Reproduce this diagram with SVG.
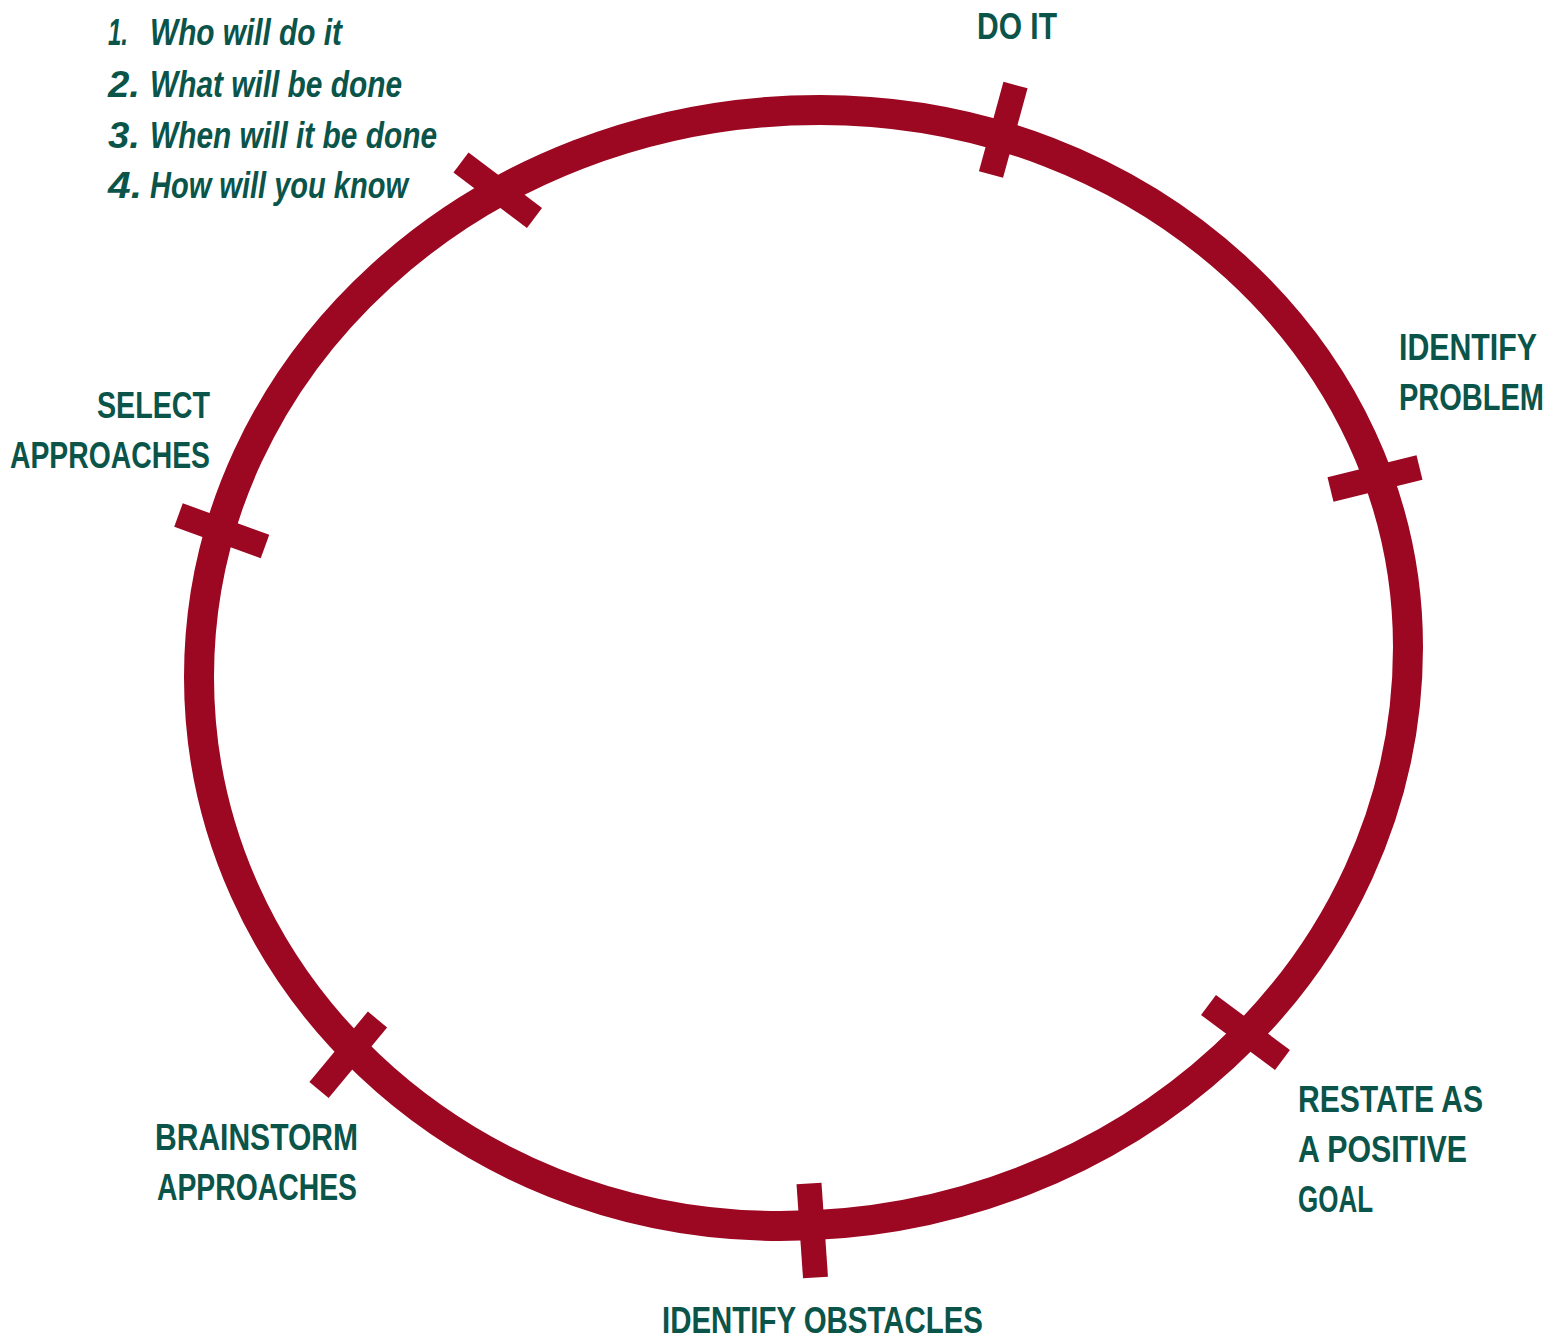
<svg xmlns="http://www.w3.org/2000/svg" width="1563" height="1340" viewBox="0 0 1563 1340">
<style>
.ring{fill:none;stroke:#9C0722;stroke-width:30}
.tick{stroke:#9C0722;stroke-width:25;stroke-linecap:butt}
.lbl{font-family:"Liberation Sans Narrow","Liberation Sans",Arial,sans-serif;font-weight:bold;font-size:37px;fill:#0B5449}
.lst{font-style:italic}
</style>
<rect width="1563" height="1340" fill="#fff"/>
<g id="connectors">
<path class="ring" d="M820,110 C1144.8,110 1408,350.4 1408,647 C1408,966.8 1126.8,1226 780,1226 C459.1,1226 199,980.2 199,677 C199,363.8 477,110 820,110 Z"/>
</g>
<g id="tick-do-it"><line class="tick" x1="1015.5" y1="85" x2="991" y2="174.5"/></g>
<g id="tick-identify-problem"><line class="tick" x1="1330.5" y1="489.5" x2="1419.5" y2="467.5"/></g>
<g id="tick-restate"><line class="tick" x1="1208.5" y1="1005" x2="1282.5" y2="1060"/></g>
<g id="tick-obstacles"><line class="tick" x1="809" y1="1183.5" x2="815.5" y2="1277.5"/></g>
<g id="tick-brainstorm"><line class="tick" x1="377.5" y1="1019.5" x2="319" y2="1090"/></g>
<g id="tick-select"><line class="tick" x1="178.5" y1="515" x2="265" y2="546.5"/></g>
<g id="tick-plan"><line class="tick" x1="461" y1="162.5" x2="534.5" y2="218"/></g>
<g id="list">
<text class="lbl lst" x="108" y="45" textLength="20" lengthAdjust="spacingAndGlyphs">1.</text>
<text class="lbl lst" x="150" y="45" textLength="192" lengthAdjust="spacingAndGlyphs">Who will do it</text>
<text class="lbl lst" x="108" y="97" textLength="32" lengthAdjust="spacingAndGlyphs">2.</text>
<text class="lbl lst" x="150" y="97" textLength="252" lengthAdjust="spacingAndGlyphs">What will be done</text>
<text class="lbl lst" x="108" y="148" textLength="32" lengthAdjust="spacingAndGlyphs">3.</text>
<text class="lbl lst" x="150" y="148" textLength="287" lengthAdjust="spacingAndGlyphs">When will it be done</text>
<text class="lbl lst" x="108" y="198" textLength="34" lengthAdjust="spacingAndGlyphs">4.</text>
<text class="lbl lst" x="150" y="198" textLength="258" lengthAdjust="spacingAndGlyphs">How will you know</text>
</g>
<g id="node-do-it"><text class="lbl" x="977" y="39" textLength="80" lengthAdjust="spacingAndGlyphs">DO IT</text></g>
<g id="node-identify-problem">
<text class="lbl" x="1537" y="360" text-anchor="end" textLength="138" lengthAdjust="spacingAndGlyphs">IDENTIFY</text>
<text class="lbl" x="1544" y="410" text-anchor="end" textLength="145" lengthAdjust="spacingAndGlyphs">PROBLEM</text>
</g>
<g id="node-select-approaches">
<text class="lbl" x="97" y="418" textLength="113" lengthAdjust="spacingAndGlyphs">SELECT</text>
<text class="lbl" x="10" y="468" textLength="200" lengthAdjust="spacingAndGlyphs">APPROACHES</text>
</g>
<g id="node-brainstorm">
<text class="lbl" x="155" y="1150" textLength="203" lengthAdjust="spacingAndGlyphs">BRAINSTORM</text>
<text class="lbl" x="157" y="1200" textLength="200" lengthAdjust="spacingAndGlyphs">APPROACHES</text>
</g>
<g id="node-restate">
<text class="lbl" x="1298" y="1112" textLength="185" lengthAdjust="spacingAndGlyphs">RESTATE AS</text>
<text class="lbl" x="1298" y="1162" textLength="169" lengthAdjust="spacingAndGlyphs">A POSITIVE</text>
<text class="lbl" x="1298" y="1212" textLength="75" lengthAdjust="spacingAndGlyphs">GOAL</text>
</g>
<g id="node-obstacles"><text class="lbl" x="662" y="1333" textLength="321" lengthAdjust="spacingAndGlyphs">IDENTIFY OBSTACLES</text></g>
</svg>
